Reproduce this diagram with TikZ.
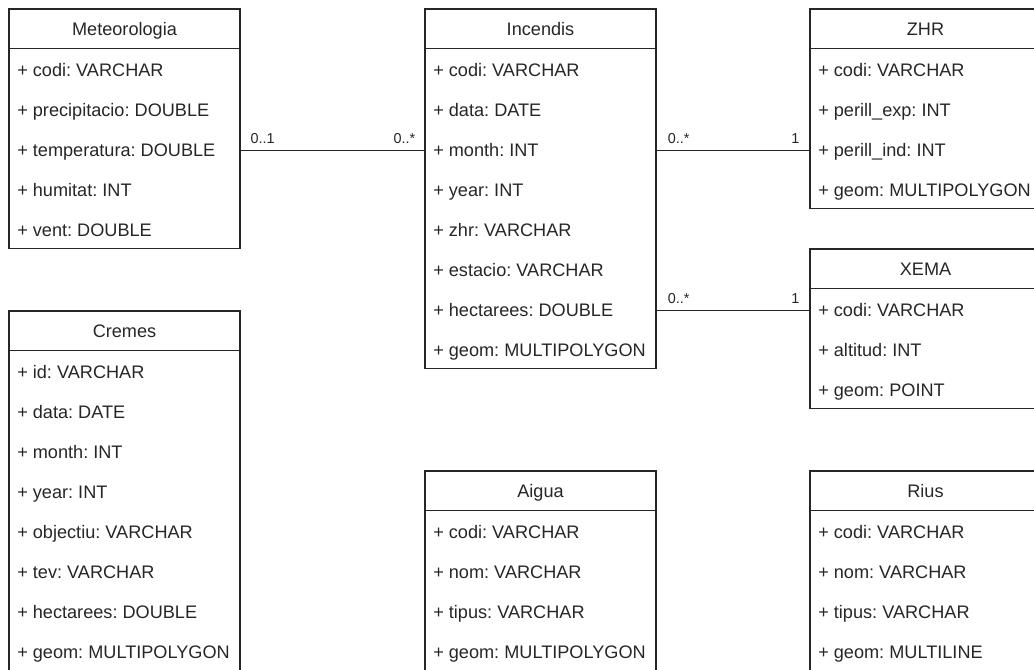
\documentclass[tikz,border=0pt]{standalone}
\usepackage{fontspec}
\setmainfont{Liberation Sans}
\usepackage{tikz}
\usetikzlibrary{positioning}
\frenchspacing

\begin{document}
\begin{tikzpicture}[x=0.75pt, y=-0.75pt,
  head/.style={draw=black!85, line width=0.8pt, anchor=north west, minimum width=173.25pt,
    minimum height=29.6pt, inner sep=0pt, outer sep=0pt, text height=9.5pt, text depth=0pt,
    font=\fontsize{13.6}{16}\selectfont, text=black!85},
  body/.style={draw=black!85, line width=0.8pt, anchor=north, minimum width=173.25pt,
    inner sep=0pt, outer sep=0pt},
  attr/.style={anchor=west, inner sep=0pt, text height=9.5pt, text depth=0pt,
    font=\fontsize{13.6}{16}\selectfont, text=black!85},
  link/.style={draw=black!85, line width=0.8pt},
  mult/.style={inner sep=0pt, font=\fontsize{10.8}{12}\selectfont, text=black!85}]
\useasboundingbox (0,0) rectangle (1034,670);
% Meteorologia
\node[head] (met) at (9,9) {Meteorologia};
\node[body, minimum height=150pt] (metb) at (met.south) {};
\foreach \t [count=\i] in {codi: VARCHAR, precipitacio: DOUBLE, temperatura: DOUBLE, humitat: INT, vent: DOUBLE}
  \node[attr] (met\i) at ([shift={(8,{22+40*(\i-1)})}]metb.north west) {+ \t};
% Incendis
\node[head] (inc) at (425,9) {Incendis};
\node[body, minimum height=240pt] (incb) at (inc.south) {};
\foreach \t [count=\i] in {codi: VARCHAR, data: DATE, month: INT, year: INT, zhr: VARCHAR, estacio: VARCHAR, hectarees: DOUBLE, geom: MULTIPOLYGON}
  \node[attr] (inc\i) at ([shift={(8,{22+40*(\i-1)})}]incb.north west) {+ \t};
% ZHR
\node[head] (zhr) at (810,9) {ZHR};
\node[body, minimum height=120pt] (zhrb) at (zhr.south) {};
\foreach \t [count=\i] in {codi: VARCHAR, perill\_exp: INT, perill\_ind: INT, geom: MULTIPOLYGON}
  \node[attr] (zhr\i) at ([shift={(8,{22+40*(\i-1)})}]zhrb.north west) {+ \t};
% XEMA
\node[head] (xema) at (810,249) {XEMA};
\node[body, minimum height=90pt] (xemab) at (xema.south) {};
\foreach \t [count=\i] in {codi: VARCHAR, altitud: INT, geom: POINT}
  \node[attr] (xema\i) at ([shift={(8,{22+40*(\i-1)})}]xemab.north west) {+ \t};
% Cremes
\node[head] (cre) at (9,311) {Cremes};
\node[body, minimum height=240pt] (creb) at (cre.south) {};
\foreach \t [count=\i] in {id: VARCHAR, data: DATE, month: INT, year: INT, objectiu: VARCHAR, tev: VARCHAR, hectarees: DOUBLE, geom: MULTIPOLYGON}
  \node[attr] (cre\i) at ([shift={(8,{22+40*(\i-1)})}]creb.north west) {+ \t};
% Aigua
\node[head] (aig) at (425,471) {Aigua};
\node[body, minimum height=121pt] (aigb) at (aig.south) {};
\foreach \t [count=\i] in {codi: VARCHAR, nom: VARCHAR, tipus: VARCHAR, geom: MULTIPOLYGON}
  \node[attr] (aig\i) at ([shift={(8,{22+40*(\i-1)})}]aigb.north west) {+ \t};
% Rius
\node[head] (riu) at (810,471) {Rius};
\node[body, minimum height=121pt] (riub) at (riu.south) {};
\foreach \t [count=\i] in {codi: VARCHAR, nom: VARCHAR, tipus: VARCHAR, geom: MULTILINE}
  \node[attr] (riu\i) at ([shift={(8,{22+40*(\i-1)})}]riub.north west) {+ \t};
% associations
\draw[link] (metb.east |- met3) -- (incb.west |- inc3)
  node[mult, pos=0, anchor=south west, xshift=7.5pt, yshift=4.5pt] {0..1}
  node[mult, pos=1, anchor=south east, xshift=-7pt, yshift=4.5pt] {0..*};
\draw[link] (incb.east |- inc3) -- (zhrb.west |- zhr3)
  node[mult, pos=0, anchor=south west, xshift=8.5pt, yshift=4.5pt] {0..*}
  node[mult, pos=1, anchor=south east, xshift=-7.5pt, yshift=4.5pt] {1};
\draw[link] (incb.east |- inc7) -- (xemab.west |- inc7)
  node[mult, pos=0, anchor=south west, xshift=8.5pt, yshift=4.5pt] {0..*}
  node[mult, pos=1, anchor=south east, xshift=-7.5pt, yshift=4.5pt] {1};
\end{tikzpicture}
\end{document}
